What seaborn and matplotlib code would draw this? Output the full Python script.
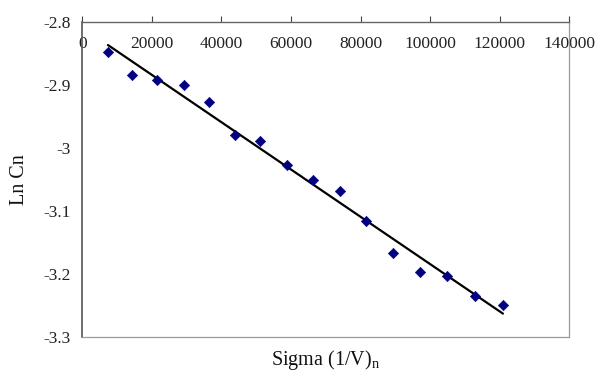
import matplotlib
matplotlib.use("Agg")
import matplotlib.pyplot as plt
import seaborn as sns
import numpy as np
import pandas as pd
from matplotlib.ticker import FuncFormatter, FixedLocator

# Data
sigma = [7400, 14400, 21600, 29300, 36300, 43800, 51100, 58800,
         66400, 74100, 81600, 89400, 97100, 104900, 112800, 120900]
ln_cn = [-2.847, -2.884, -2.892, -2.900, -2.927, -2.980, -2.988, -3.027,
         -3.051, -3.068, -3.116, -3.167, -3.196, -3.203, -3.235, -3.249]
x_ticks = [0, 20000, 40000, 60000, 80000, 100000, 120000, 140000]
y_ticks = [-2.8, -2.9, -3.0, -3.1, -3.2, -3.3]

df = pd.DataFrame({"sigma": sigma, "ln_cn": ln_cn})

sns.set_style("white")
plt.rcParams["font.family"] = ["Liberation Serif", "DejaVu Serif"]
plt.rcParams["mathtext.fontset"] = "custom"
plt.rcParams["mathtext.rm"] = "Liberation Serif"
plt.rcParams["mathtext.it"] = "Liberation Serif:italic"

fig = plt.figure(figsize=(6.0, 3.72), dpi=100)
ax = fig.add_axes([0.137, 0.0933, 0.812, 0.8476])

sns.regplot(data=df, x="sigma", y="ln_cn", ax=ax, ci=None, scatter=False,
            line_kws={"color": "black", "lw": 1.6})
sns.scatterplot(data=df, x="sigma", y="ln_cn", ax=ax, marker="D",
                color="#000080", edgecolor="#000080", s=28, zorder=3)

ax.set_xlim(0, 140000)
ax.set_ylim(-3.3, -2.8)
ax.xaxis.set_major_locator(FixedLocator(x_ticks))
ax.yaxis.set_major_locator(FixedLocator(y_ticks))
ax.xaxis.set_major_formatter(FuncFormatter(lambda v, p: f"{int(v)}"))
ax.yaxis.set_major_formatter(FuncFormatter(lambda v, p: f"{v:g}"))

# x axis sits at the top, with labels drawn just below it
ax.xaxis.set_ticks_position("top")
ax.tick_params(axis="x", which="major", direction="out", length=4,
               width=0.8, color="#666666", labelsize=12.5,
               labeltop=True, labelbottom=False, pad=-25.5)
ax.tick_params(axis="y", which="major", direction="out", length=4,
               width=0.8, color="#444444", labelsize=12.5, pad=4)
ax.tick_params(axis="both", colors="#444444", labelcolor="#222222")

ax.spines["left"].set_color("#555555")
ax.spines["left"].set_linewidth(1.2)
ax.spines["top"].set_color("#666666")
ax.spines["top"].set_linewidth(1.0)
ax.spines["right"].set_color("#999999")
ax.spines["right"].set_linewidth(0.9)
ax.spines["bottom"].set_color("#999999")
ax.spines["bottom"].set_linewidth(0.9)

ax.set_xlabel(r"Sigma (1/V)$_{\mathrm{n}}$", fontsize=14.5, color="#111111")
ax.xaxis.set_label_position("bottom")
ax.xaxis.set_label_coords(0.5, -0.033)
ax.xaxis.label.set_verticalalignment("top")
ax.set_ylabel("Ln Cn", fontsize=14.5, color="#111111")
ax.yaxis.set_label_coords(-0.128, 0.5)
ax.yaxis.label.set_verticalalignment("center")

fig.savefig("out.png", dpi=100)
